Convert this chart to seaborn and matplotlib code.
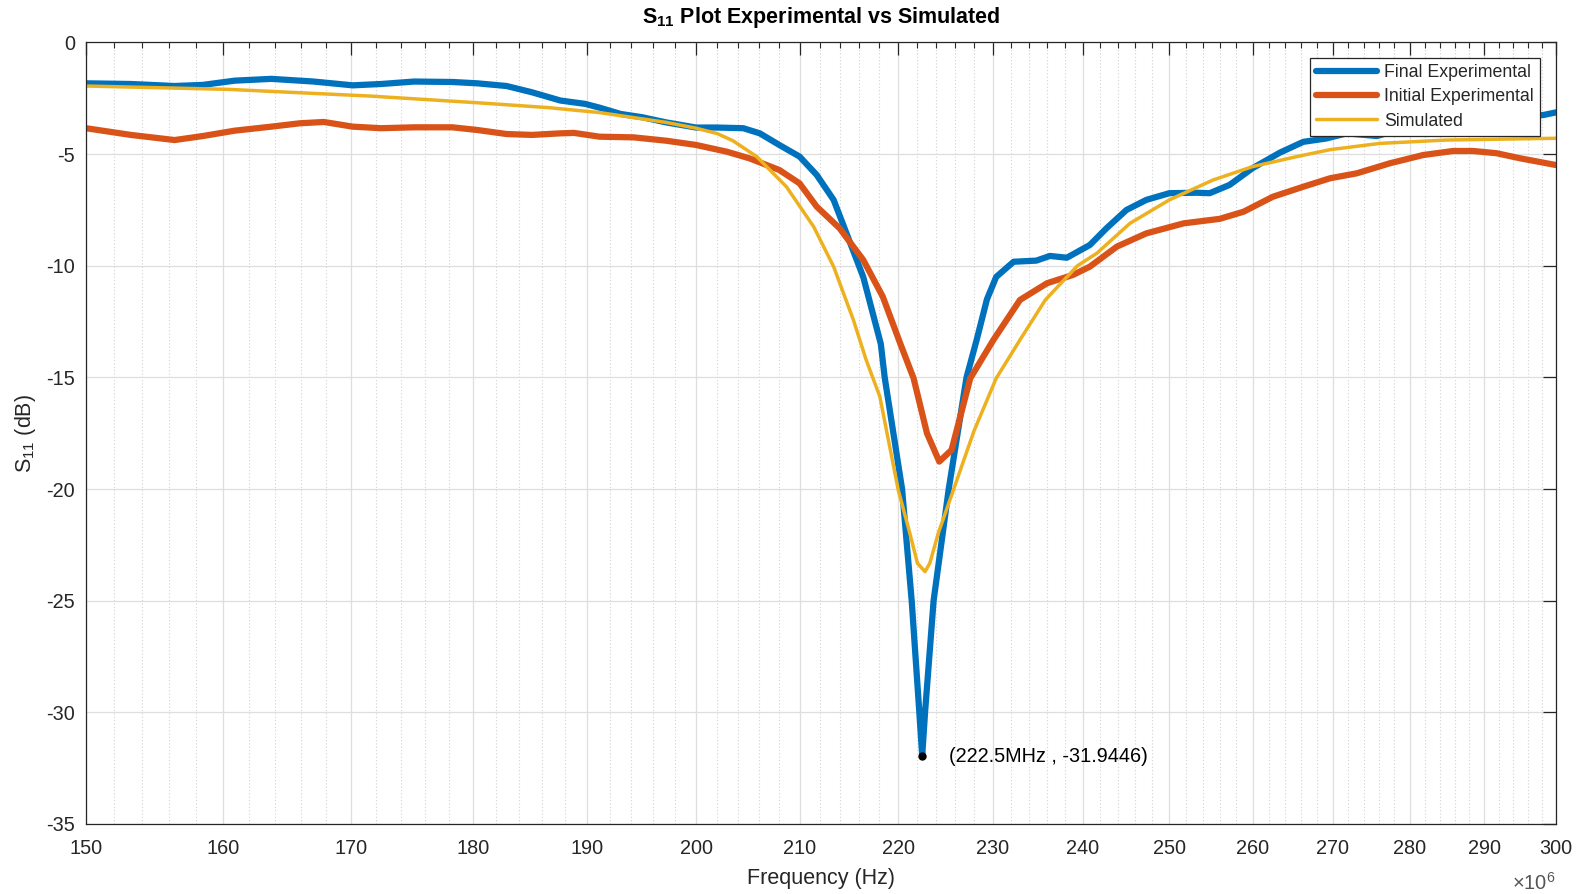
import matplotlib
matplotlib.use('Agg')
import matplotlib.pyplot as plt
import numpy as np
import pandas as pd
import seaborn as sns
from matplotlib.ticker import FixedLocator, NullFormatter, NullLocator

# Values (frequency in MHz, S11 in dB)
final_freq = [150, 153.2, 156.4, 158.5, 160.9, 163.7, 167.0, 170.1, 172.4, 175.1,
              178.3, 180.4, 182.9, 185.1, 187.6, 189.8, 191.1, 193.0, 195.0, 197.2,
              200.0, 202.0, 204.5, 206.1, 208.0, 210.0, 211.7, 213.4, 214.7, 216.4,
              218.2, 218.6, 220.4, 221.4, 222.2, 222.5, 222.8, 223.7, 225.3, 227.2,
              228.3, 229.4, 230.4, 232.3, 234.8, 236.3, 238.2, 240.8, 242.7, 245.0,
              247.3, 250.0, 253.2, 254.8, 257.2, 260.0, 263.4, 266.3, 269.2, 271.8,
              275.7, 277.8, 286.0, 298.2, 300.0]
final_s11 = [-1.83, -1.86, -1.95, -1.90, -1.71, -1.63, -1.75, -1.92, -1.86, -1.75,
             -1.77, -1.83, -1.95, -2.23, -2.60, -2.75, -2.92, -3.20, -3.35, -3.58,
             -3.81, -3.81, -3.84, -4.07, -4.59, -5.11, -5.93, -7.05, -8.55, -10.5,
             -13.5, -15.0, -20.0, -25.0, -30.0, -31.9446, -30.0, -25.0, -20.0, -15.0,
             -13.3, -11.5, -10.5, -9.82, -9.77, -9.56, -9.64, -9.07, -8.32, -7.50,
             -7.05, -6.75, -6.73, -6.75, -6.38, -5.63, -4.93, -4.45, -4.30, -4.07,
             -4.19, -3.99, -3.60, -3.25, -3.13]

initial_freq = [150, 153.2, 156.4, 158.5, 160.9, 163.7, 165.9, 167.8, 170.1, 172.4,
                175.1, 178.3, 180.4, 182.9, 185.1, 187.6, 188.8, 191.1, 194.2, 197.2,
                200.0, 202.9, 205.1, 208.0, 210.0, 211.7, 214.0, 216.4, 218.4, 220.2,
                221.6, 223.0, 224.3, 225.6, 227.6, 230.1, 233.0, 236.0, 238.9, 240.8,
                243.9, 247.3, 251.7, 256.0, 258.9, 262.5, 266.3, 269.7, 273.1, 277.4,
                281.8, 285.8, 288.5, 291.7, 295.0, 300.0]
initial_s11 = [-3.84, -4.14, -4.37, -4.19, -3.95, -3.77, -3.62, -3.56, -3.77, -3.84,
               -3.80, -3.80, -3.92, -4.10, -4.14, -4.07, -4.05, -4.22, -4.25, -4.40,
               -4.59, -4.89, -5.19, -5.71, -6.31, -7.35, -8.32, -9.74, -11.38, -13.47,
               -15.04, -17.5, -18.77, -18.25, -15.04, -13.32, -11.53, -10.78, -10.41, -10.04,
               -9.14, -8.55, -8.10, -7.90, -7.58, -6.91, -6.46, -6.08, -5.86, -5.41,
               -5.04, -4.86, -4.86, -4.96, -5.19, -5.49]

sim_freq = [150, 160.4, 171.5, 180.4, 186.6, 191.1, 197.2, 200.0, 202.0, 203.5,
            205.8, 208.7, 211.4, 213.4, 215.4, 216.7, 218.1, 220.0, 221.2, 222.0,
            222.8, 223.3, 224.2, 225.8, 228.0, 230.4, 233.0, 235.8, 239.4, 241.6,
            245.4, 250.0, 255.2, 260.0, 265.5, 269.7, 276.1, 284.9, 300.0]
sim_s11 = [-1.95, -2.10, -2.40, -2.70, -2.92, -3.14, -3.58, -3.84, -4.08, -4.40,
           -5.11, -6.46, -8.25, -10.04, -12.43, -14.22, -15.86, -20.04, -21.97, -23.32,
           -23.70, -23.32, -21.97, -20.04, -17.4, -15.04, -13.32, -11.53, -10.0, -9.44,
           -8.10, -7.05, -6.16, -5.56, -5.11, -4.80, -4.52, -4.37, -4.29]

peak_freq = 222.5
peak_s11 = -31.9446

series_names = ['Final Experimental', 'Initial Experimental', 'Simulated']
series_colors = ['#0072BD', '#D95319', '#EDB120']

x_ticks = list(range(150, 301, 10))
x_minor = [f for f in range(150, 301, 2) if f % 10]
y_ticks = list(range(-35, 1, 5))

sns.set_style('white')
plt.rcParams['font.family'] = ['Liberation Sans', 'DejaVu Sans']
plt.rcParams['axes.unicode_minus'] = False
plt.rcParams['mathtext.fontset'] = 'custom'
plt.rcParams['mathtext.rm'] = 'Liberation Sans'
plt.rcParams['mathtext.it'] = 'Liberation Sans:italic'
plt.rcParams['mathtext.bf'] = 'Liberation Sans:bold'

fig = plt.figure(figsize=(15.86, 8.94), dpi=100)
ax = fig.add_axes([0.0542, 0.0783, 0.9269, 0.8742])

all_freq = [final_freq, initial_freq, sim_freq]
all_s11 = [final_s11, initial_s11, sim_s11]
widths = [4.5, 4.5, 2.5]
for freq, s11, name, color, lw in zip(all_freq, all_s11, series_names, series_colors, widths):
  df = pd.DataFrame({'freq': np.array(freq) * 1e6, 's11': s11})
  sns.lineplot(data=df, x='freq', y='s11', color=color, linewidth=lw,
               label=name, ax=ax, sort=False, estimator=None)

# data tip at the minimum
ax.plot(peak_freq * 1e6, peak_s11, 'o', color='black', markersize=5, zorder=5)
ax.text(225.3e6, peak_s11 - 0.05, '(%sMHz , %s)' % (peak_freq, peak_s11),
        fontsize=14.3, color='black', va='center', ha='left')

ax.set_xscale('log')
ax.set_xlim(150e6, 300e6)
ax.set_ylim(-35, 0)
ax.xaxis.set_major_locator(FixedLocator([t * 1e6 for t in x_ticks]))
ax.set_xticklabels([str(t) for t in x_ticks])
ax.xaxis.set_minor_locator(FixedLocator([t * 1e6 for t in x_minor]))
ax.xaxis.set_minor_formatter(NullFormatter())
ax.set_yticks(y_ticks)
ax.yaxis.set_minor_locator(NullLocator())

ax.tick_params(which='both', direction='in', top=True, right=True,
               colors='#262626', labelsize=14.3)
ax.tick_params(which='major', length=9.5, width=0.9)
ax.tick_params(which='minor', length=4.5, width=0.8)
ax.tick_params(axis='x', pad=11)
ax.tick_params(axis='y', pad=8)

ax.set_axisbelow(True)
ax.grid(True, which='major', color='#dedede', linewidth=0.9)
ax.grid(True, which='minor', axis='x', color='#d2d2d2', linestyle=(0, (1, 2)), linewidth=0.8)

for sp in ax.spines.values():
  sp.set_color('#262626')
  sp.set_linewidth(0.9)

ax.set_xlabel('Frequency (Hz)', fontsize=15.5, color='#262626', labelpad=7)
ax.set_ylabel('S$_{11}$ (dB)', fontsize=15.5, color='#262626', labelpad=6)
ax.set_title(r'S$_{\mathbf{11}}$ Plot Experimental vs Simulated', fontsize=15.5,
             fontweight='bold', color='black', pad=14)
ax.text(1.0, -0.075, '×10$^{6}$', transform=ax.transAxes, ha='right', va='center',
        fontsize=14.5, color='#555555')

leg = ax.legend(loc='upper right', bbox_to_anchor=(0.989, 0.98), borderaxespad=0,
                fancybox=False, framealpha=1, edgecolor='#262626', fontsize=12.8,
                handlelength=3.4, handletextpad=0.4, labelspacing=0.4, borderpad=0.35)
leg.get_frame().set_linewidth(0.9)

fig.savefig('out.png', dpi=100)
